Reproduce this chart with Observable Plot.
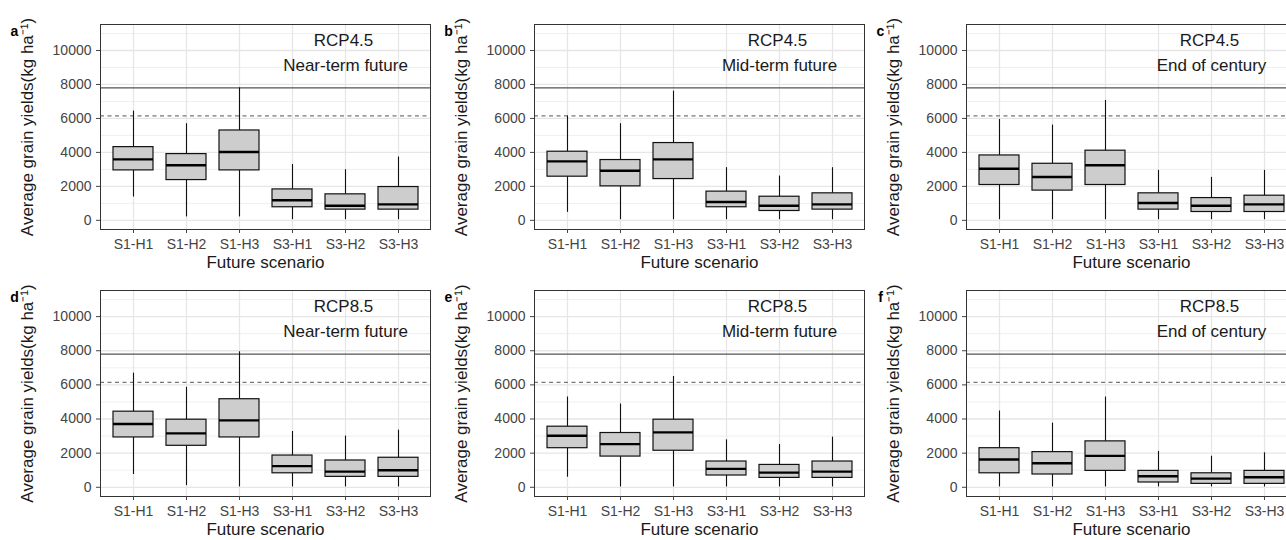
<!DOCTYPE html>
<html><head><meta charset="utf-8">
<script src="https://cdn.jsdelivr.net/npm/d3@7"></script>
<script src="https://cdn.jsdelivr.net/npm/@observablehq/plot@0.6"></script>
<style>
html,body{margin:0;padding:0;background:#fff;}
#fig{position:relative;width:1286px;height:540px;overflow:hidden;background:#fff;font-family:"Liberation Sans",Arial,sans-serif;}
#fig svg{position:absolute;overflow:visible;}
</style></head><body><div id="fig"></div>
<script>
const scenarios = ["S1-H1","S1-H2","S1-H3","S3-H1","S3-H2","S3-H3"];
const panelLetters = ["a","b","c","d","e","f"];
const rcpLabels = ["RCP4.5","RCP4.5","RCP4.5","RCP8.5","RCP8.5","RCP8.5"];
const periodLabels = ["Near-term future","Mid-term future","End of century","Near-term future","Mid-term future","End of century"];
const yTicks = [0,2000,4000,6000,8000,10000];
const yMinorTicks = [1000,3000,5000,7000,9000,11000];
const solidLine = [7800];
const dashedLine = [6150];
const yTitle = "Average grain yields(kg ha\u207B\u00B9)";
const xTitle = "Future scenario";

const whiskerLow = [
  [1370, 200, 200, 40, 40, 40],
  [470, 40, 40, 40, 40, 40],
  [40, 40, 40, 40, 40, 40],
  [750, 100, 20, 20, 20, 20],
  [590, 20, 20, 20, 20, 20],
  [20, 20, 20, 20, 20, 20]];
const lowerQuartile = [
  [2940, 2370, 2940, 770, 630, 630],
  [2570, 2000, 2430, 770, 550, 630],
  [2080, 1750, 2080, 630, 490, 490],
  [2920, 2430, 2920, 820, 610, 610],
  [2290, 1800, 2140, 690, 550, 550],
  [820, 750, 960, 280, 200, 200]];
const medianYield = [
  [3590, 3240, 4020, 1180, 860, 940],
  [3470, 2920, 3590, 1080, 860, 940],
  [3040, 2550, 3240, 1020, 860, 940],
  [3710, 3160, 3920, 1240, 920, 1000],
  [3020, 2530, 3220, 1080, 860, 920],
  [1630, 1410, 1840, 650, 510, 590]];
const upperQuartile = [
  [4310, 3900, 5290, 1820, 1530, 1960],
  [4040, 3550, 4550, 1690, 1390, 1590],
  [3820, 3330, 4100, 1590, 1310, 1450],
  [4430, 3960, 5160, 1860, 1570, 1730],
  [3550, 3180, 3960, 1510, 1310, 1510],
  [2290, 2060, 2690, 960, 820, 960]];
const whiskerHigh = [
  [6430, 5690, 7800, 3290, 2980, 3730],
  [6140, 5690, 7610, 3100, 2610, 3100],
  [5940, 5610, 7060, 2940, 2530, 2940],
  [6690, 5860, 7940, 3270, 3000, 3350],
  [5290, 4880, 6490, 2780, 2510, 2940],
  [4470, 3760, 5290, 2100, 1820, 2020]];

const fig = document.getElementById("fig");
const colLeft = [0, 434, 866];
const rowTop = [0, 266];
const rowFrameH = [205, 206];
const font = '"Liberation Sans", Arial, sans-serif';

for (let p = 0; p < 6; p++) {
  const r = Math.floor(p / 3), c = p % 3;
  const rows = scenarios.map((s, i) => ({
    scenario: s, lo: whiskerLow[p][i], q1: lowerQuartile[p][i],
    med: medianYield[p][i], q3: upperQuartile[p][i], hi: whiskerHigh[p][i]
  }));
  const chart = Plot.plot({
    width: 432,
    height: 24 + rowFrameH[r] + 50,
    marginLeft: 100, marginRight: 2, marginTop: 24, marginBottom: 50,
    style: {background: "transparent", fontFamily: font, overflow: "visible"},
    x: {type: "band", domain: scenarios, paddingInner: 0.25, paddingOuter: 0.225, axis: null},
    y: {domain: [-540, 11530], axis: null},
    marks: [
      Plot.gridY(yMinorTicks, {stroke: "#ebebeb", strokeOpacity: 1, strokeWidth: 0.8}),
      Plot.gridY(yTicks, {stroke: "#e6e6e6", strokeOpacity: 1, strokeWidth: 1.3}),
      Plot.gridX(scenarios, {stroke: "#e6e6e6", strokeOpacity: 1, strokeWidth: 1.3}),
      Plot.ruleY(solidLine, {stroke: "#555", strokeWidth: 1.2}),
      Plot.ruleY(dashedLine, {stroke: "#777", strokeWidth: 1.2, strokeDasharray: "4,3.5"}),
      Plot.ruleX(rows, {x: "scenario", y1: "lo", y2: "q1", stroke: "#111", strokeWidth: 1.1}),
      Plot.ruleX(rows, {x: "scenario", y1: "q3", y2: "hi", stroke: "#111", strokeWidth: 1.1}),
      Plot.barY(rows, {x: "scenario", y1: "q1", y2: "q3", fill: "#cdcdcd", stroke: "#111", strokeWidth: 1.2}),
      Plot.tickY(rows, {x: "scenario", y: "med", stroke: "#000", strokeWidth: 2.4}),
      Plot.frame({stroke: "#333", strokeWidth: 1}),
      Plot.axisY(yTicks, {tickSize: 4, tickPadding: 5, fontSize: 14, color: "#444", tickFormat: d => String(d), label: null}),
      Plot.axisX({tickSize: 4, tickPadding: 6, fontSize: 14, color: "#444", label: null}),
      Plot.text([yTitle], {frameAnchor: "left", dx: -73, rotate: -90, textAnchor: "middle", lineAnchor: "middle", fontSize: 17, fill: "#1a1a1a"}),
      Plot.text([xTitle], {frameAnchor: "bottom", dy: 33, textAnchor: "middle", lineAnchor: "middle", fontSize: 17, fill: "#1a1a1a"}),
      Plot.text([panelLetters[p]], {frameAnchor: "top-left", dx: -86, dy: 7, textAnchor: "middle", lineAnchor: "middle", fontSize: 14, fontWeight: "bold", fill: "#000"}),
      Plot.text([rcpLabels[p]], {frameAnchor: "top-right", dx: -87, dy: 16, textAnchor: "middle", lineAnchor: "middle", fontSize: 17, fill: "#1a1a1a"}),
      Plot.text([periodLabels[p]], {frameAnchor: "top-right", dx: -85, dy: 41, textAnchor: "middle", lineAnchor: "middle", fontSize: 17, fill: "#1a1a1a"})
    ]
  });
  chart.style.left = colLeft[c] + "px";
  chart.style.top = rowTop[r] + "px";
  fig.appendChild(chart);
}
</script></body></html>
